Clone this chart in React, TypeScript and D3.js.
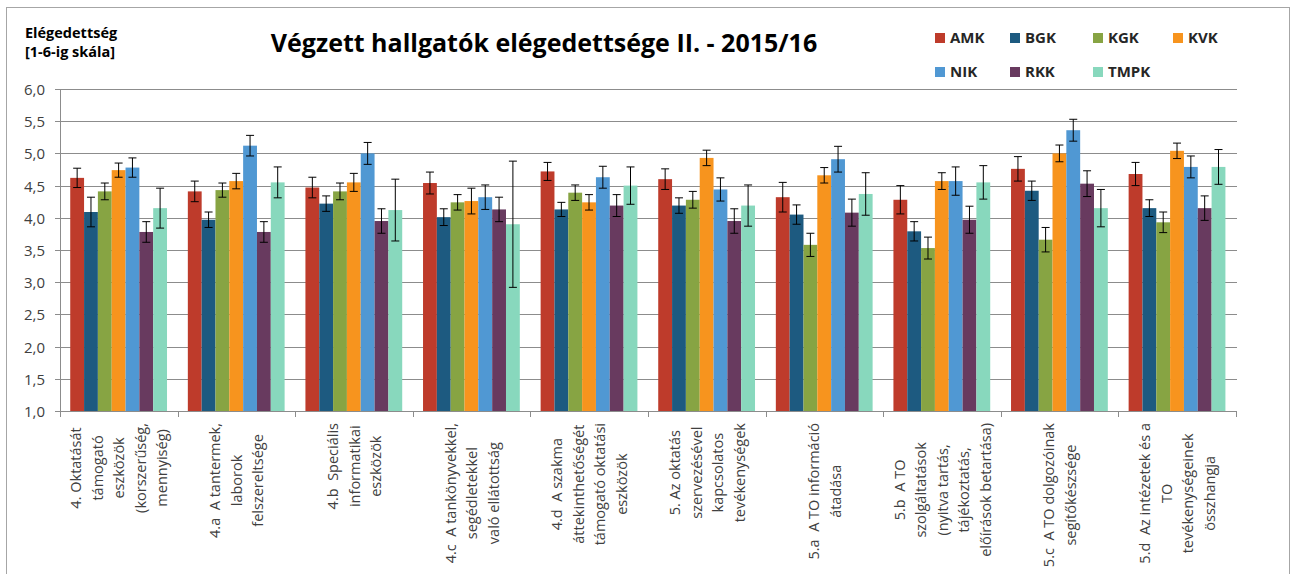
import React, { useRef, useEffect } from 'react';
import * as d3 from 'd3';

const series = ['AMK', 'BGK', 'KGK', 'KVK', 'NIK', 'RKK', 'TMPK'];
const colors = ['#be3b2b', '#1d5a80', '#87a443', '#f7941e', '#5098d3', '#683a5f', '#88d8bd'];

const categories = [
  ['4. Oktatását', 'támogató', 'eszközök', '(korszerűség,', 'mennyiség)'],
  ['4.a  A tantermek,', 'laborok', 'felszereltsége'],
  ['4.b  Speciális', 'informatikai', 'eszközök'],
  ['4.c  A tankönyvekkel,', 'segédletekkel', 'való ellátottság'],
  ['4.d  A szakma', 'áttekinthetőségét', 'támogató oktatási', 'eszközök'],
  ['5. Az oktatás', 'szervezésével', 'kapcsolatos', 'tevékenységek'],
  ['5.a  A TO információ', 'átadása'],
  ['5.b  A TO', 'szolgáltatások', '(nyitva tartás,', 'tájékoztatás,', 'előírások betartása)'],
  ['5.c  A TO dolgozóinak', 'segítőkészsége'],
  ['5.d  Az intézetek és a', 'TO', 'tevékenységeinek', 'összhangja'],
];

const amk = [4.62, 4.41, 4.47, 4.54, 4.72, 4.60, 4.32, 4.28, 4.76, 4.68];
const bgk = [4.09, 3.97, 4.22, 4.01, 4.13, 4.19, 4.05, 3.79, 4.42, 4.15];
const kgk = [4.41, 4.43, 4.41, 4.24, 4.39, 4.28, 3.58, 3.53, 3.66, 3.93];
const kvk = [4.74, 4.57, 4.55, 4.26, 4.24, 4.93, 4.66, 4.57, 5.00, 5.04];
const nik = [4.78, 5.12, 5.00, 4.32, 4.63, 4.44, 4.91, 4.57, 5.36, 4.79];
const rkk = [3.78, 3.78, 3.95, 4.13, 4.19, 3.95, 4.08, 3.97, 4.53, 4.15];
const tmpk = [4.15, 4.55, 4.12, 3.90, 4.50, 4.19, 4.37, 4.55, 4.15, 4.79];

const amkErr = [0.15, 0.16, 0.16, 0.17, 0.14, 0.16, 0.23, 0.22, 0.19, 0.18];
const bgkErr = [0.23, 0.12, 0.12, 0.13, 0.11, 0.12, 0.15, 0.15, 0.15, 0.13];
const kgkErr = [0.13, 0.11, 0.13, 0.12, 0.12, 0.13, 0.18, 0.17, 0.19, 0.16];
const kvkErr = [0.11, 0.12, 0.14, 0.20, 0.12, 0.12, 0.12, 0.13, 0.13, 0.12];
const nikErr = [0.15, 0.16, 0.17, 0.19, 0.17, 0.18, 0.20, 0.22, 0.17, 0.17];
const rkkErr = [0.16, 0.16, 0.19, 0.19, 0.17, 0.19, 0.21, 0.21, 0.20, 0.19];
const tmpkErr = [0.31, 0.24, 0.48, 0.98, 0.29, 0.32, 0.33, 0.26, 0.29, 0.27];

const yTicks = [1, 1.5, 2, 2.5, 3, 3.5, 4, 4.5, 5, 5.5, 6];

const values = [amk, bgk, kgk, kvk, nik, rkk, tmpk];
const errors = [amkErr, bgkErr, kgkErr, kvkErr, nikErr, rkkErr, tmpkErr];

const FONT = '"Open Sans", Lato, sans-serif';

const App: React.FC = () => {
  const svgRef = useRef<SVGSVGElement>(null);

  useEffect(() => {
    if (!svgRef.current) return;
    const svg = d3.select(svgRef.current);
    svg.selectAll('*').remove();

    const width = 1292;
    const height = 574;
    const left = 60;
    const right = 1236;
    const top = 89;
    const bottom = 411;

    svg.attr('width', width).attr('height', height);

    // frame
    svg.append('rect')
      .attr('x', 6.5).attr('y', 7.5)
      .attr('width', 1283).attr('height', 580)
      .attr('fill', 'white').attr('stroke', '#a6a6a6');

    const idx = categories.map((_, i) => String(i));
    const x0 = d3.scaleBand<string>().domain(idx).range([left, right]);
    const x1 = d3.scaleBand<string>().domain(series)
      .range([x0.bandwidth() * 0.087, x0.bandwidth() * 0.91]);
    const y = d3.scaleLinear().domain([1, 6]).range([bottom, top]);
    const fmt = (v: number) => d3.format('.1f')(v).replace('.', ',');

    // gridlines
    svg.append('g').selectAll('line')
      .data(yTicks.filter(t => t > 1))
      .enter().append('line')
      .attr('x1', left - 5).attr('x2', right + 1)
      .attr('y1', d => Math.round(y(d)) + 0.5).attr('y2', d => Math.round(y(d)) + 0.5)
      .attr('stroke', '#8c8c8c').attr('stroke-width', 1);

    // y tick labels
    svg.append('g').selectAll('text')
      .data(yTicks)
      .enter().append('text')
      .attr('x', 45).attr('y', d => y(d))
      .attr('text-anchor', 'end').attr('dominant-baseline', 'central')
      .attr('font-family', FONT).attr('font-size', 15).attr('fill', '#404040')
      .text(d => fmt(d));

    // bars
    const groups = svg.append('g').selectAll('g')
      .data(categories.map((_, i) => i))
      .enter().append('g')
      .attr('transform', i => `translate(${x0(String(i))},0)`);

    series.forEach((s, si) => {
      groups.append('rect')
        .attr('x', x1(s)!)
        .attr('width', x1.bandwidth())
        .attr('y', i => y(values[si][i]))
        .attr('height', i => bottom - y(values[si][i]))
        .attr('fill', colors[si]);
    });

    // error bars
    series.forEach((s, si) => {
      const cx = x1(s)! + x1.bandwidth() / 2;
      const eb = groups.append('g').attr('stroke', '#000').attr('stroke-width', 1);
      eb.append('line')
        .attr('x1', cx).attr('x2', cx)
        .attr('y1', i => y(values[si][i] + errors[si][i]))
        .attr('y2', i => y(values[si][i] - errors[si][i]));
      eb.append('line')
        .attr('x1', cx - 4).attr('x2', cx + 4)
        .attr('y1', i => y(values[si][i] + errors[si][i]))
        .attr('y2', i => y(values[si][i] + errors[si][i]));
      eb.append('line')
        .attr('x1', cx - 4).attr('x2', cx + 4)
        .attr('y1', i => y(values[si][i] - errors[si][i]))
        .attr('y2', i => y(values[si][i] - errors[si][i]));
    });

    // axes lines
    svg.append('line')
      .attr('x1', left + 0.5).attr('x2', left + 0.5)
      .attr('y1', top).attr('y2', bottom)
      .attr('stroke', '#8c8c8c');
    svg.append('line')
      .attr('x1', left - 5).attr('x2', right + 1)
      .attr('y1', bottom + 0.5).attr('y2', bottom + 0.5)
      .attr('stroke', '#8c8c8c');
    svg.append('g').selectAll('line')
      .data(d3.range(categories.length + 1))
      .enter().append('line')
      .attr('x1', i => Math.round(left + i * x0.step()) + 0.5)
      .attr('x2', i => Math.round(left + i * x0.step()) + 0.5)
      .attr('y1', bottom).attr('y2', bottom + 6)
      .attr('stroke', '#8c8c8c');

    // category labels, rotated, lines centred, block top-aligned under axis
    const lh = 21.5;
    categories.forEach((lines, i) => {
      const cx = x0(String(i))! + x0.bandwidth() / 2;
      const g = svg.append('g');
      const texts = lines.map((line, li) =>
        g.append('text')
          .attr('font-family', FONT).attr('font-size', 14.5).attr('fill', '#404040')
          .attr('text-anchor', 'middle').attr('dominant-baseline', 'central')
          .style('white-space', 'pre')
          .attr('y', (li - (lines.length - 1) / 2) * lh)
          .text(line));
      const maxLen = d3.max(texts, t => (t.node() as SVGTextElement).getComputedTextLength()) || 0;
      texts.forEach(t => t.attr('x', -maxLen / 2));
      g.attr('transform', `translate(${cx},${423}) rotate(-90)`);
    });

    // title
    svg.append('text')
      .attr('x', 544).attr('y', 52)
      .attr('text-anchor', 'middle')
      .attr('font-family', FONT).attr('font-weight', 'bold').attr('font-size', 25)
      .attr('fill', '#000')
      .text('Végzett hallgatók elégedettsége II. - 2015/16');

    // y axis title
    const yt = svg.append('text')
      .attr('font-family', FONT).attr('font-weight', 'bold').attr('font-size', 14.5)
      .attr('fill', '#000');
    yt.append('tspan').attr('x', 25).attr('y', 38).text('Elégedettség');
    yt.append('tspan').attr('x', 25).attr('y', 57).text('[1-6-ig skála]');

    // legend
    const legX = [935, 1010, 1093, 1173];
    const legY = [43, 77];
    series.forEach((s, si) => {
      const lx = legX[si % 4];
      const ly = legY[Math.floor(si / 4)];
      svg.append('rect')
        .attr('x', lx).attr('y', ly - 10)
        .attr('width', 10).attr('height', 10)
        .attr('fill', colors[si]);
      svg.append('text')
        .attr('x', lx + 15).attr('y', ly)
        .attr('font-family', FONT).attr('font-weight', 'bold').attr('font-size', 15)
        .attr('fill', '#262626')
        .text(s);
    });
  }, []);

  return (
    <svg ref={svgRef} style={{ position: 'absolute', left: 0, top: 0, display: 'block' }}></svg>
  );
};

export default App;
